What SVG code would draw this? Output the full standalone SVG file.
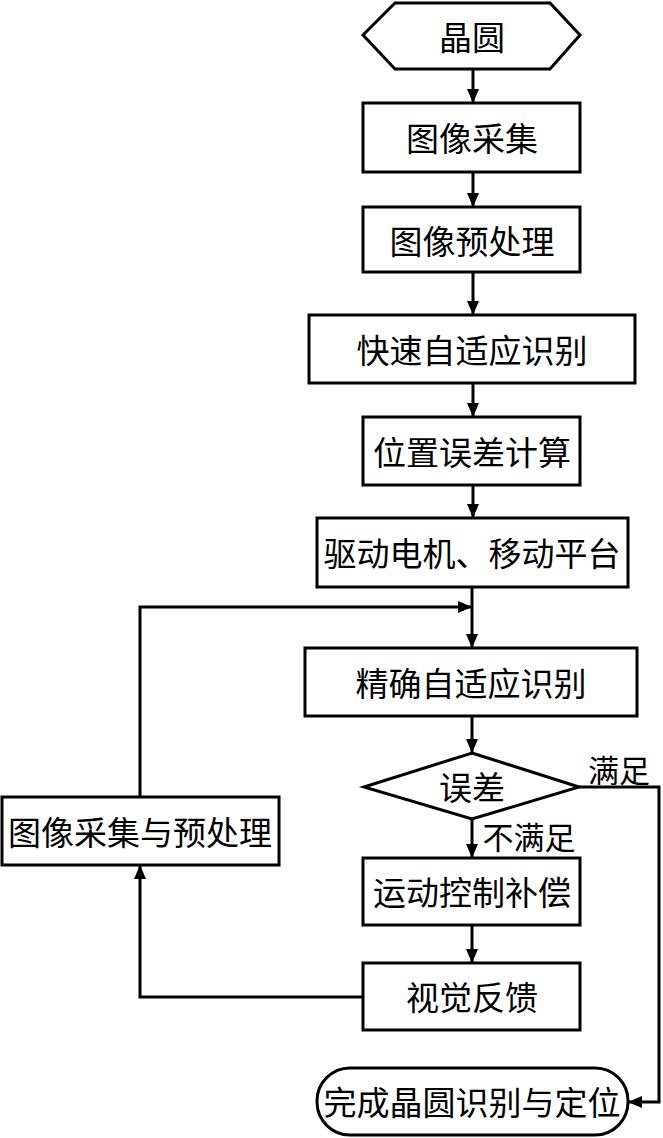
<svg xmlns="http://www.w3.org/2000/svg" width="663" height="1138" viewBox="0 0 663 1138">
<style>
.s{fill:#fff;stroke:#000;stroke-width:3}
.t{font-family:"Noto Sans CJK SC","Noto Sans CJK JP",sans-serif;font-size:33px;fill:#000;text-anchor:middle;dominant-baseline:central}
.l{font-size:31px}
.c{fill:none;stroke:#000;stroke-width:3}
</style>
<defs>
<marker id="a" markerUnits="userSpaceOnUse" markerWidth="14" markerHeight="12" refX="14" refY="6" orient="auto">
<path d="M0,0 L14,6 L0,12 z" fill="#000"/>
</marker>
</defs>
<rect width="663" height="1138" fill="#fff"/>
<g id="connectors">
<path class="c" d="M473,69 V103" marker-end="url(#a)"/>
<path class="c" d="M473,172 V207" marker-end="url(#a)"/>
<path class="c" d="M473,272 V315" marker-end="url(#a)"/>
<path class="c" d="M473,383 V417" marker-end="url(#a)"/>
<path class="c" d="M473,485 V518" marker-end="url(#a)"/>
<path class="c" d="M472,587 V648" marker-end="url(#a)"/>
<path class="c" d="M140,797 V607 H472" marker-end="url(#a)"/>
<path class="c" d="M472,716 V753" marker-end="url(#a)"/>
<path class="c" d="M472,819 V858" marker-end="url(#a)"/>
<path class="c" d="M472,925 V963" marker-end="url(#a)"/>
<path class="c" d="M363,997 H140 V865" marker-end="url(#a)"/>
<path class="c" d="M579,787 H659 V1102 H628" marker-end="url(#a)"/>
<text class="t l" x="619" y="768">满足</text>
<text class="t l" x="529" y="835">不满足</text>
</g>
<g id="n0"><polygon class="s" points="363,35 395,3 550,3 580,35 550,69 395,69"/><text class="t" x="472" y="36">晶圆</text></g>
<g id="n1"><rect class="s" x="363" y="103" width="217" height="69"/><text class="t" x="472" y="137">图像采集</text></g>
<g id="n2"><rect class="s" x="363" y="207" width="217" height="65"/><text class="t" x="472" y="240">图像预处理</text></g>
<g id="n3"><rect class="s" x="309" y="315" width="326" height="68"/><text class="t" x="472" y="349">快速自适应识别</text></g>
<g id="n4"><rect class="s" x="363" y="417" width="217" height="68"/><text class="t" x="472" y="451">位置误差计算</text></g>
<g id="n5"><rect class="s" x="317" y="518" width="311" height="69"/><text class="t" x="472" y="552">驱动电机、移动平台</text></g>
<g id="n6"><rect class="s" x="305" y="648" width="332" height="68"/><text class="t" x="471" y="682">精确自适应识别</text></g>
<g id="n7"><polygon class="s" points="472,753 579,787 472,819 364,787"/><text class="t" x="472" y="786">误差</text></g>
<g id="n8"><rect class="s" x="363" y="858" width="217" height="67"/><text class="t" x="472" y="891">运动控制补偿</text></g>
<g id="n9"><rect class="s" x="363" y="963" width="217" height="67"/><text class="t" x="472" y="996">视觉反馈</text></g>
<g id="n10"><rect class="s" x="2" y="797" width="277" height="68"/><text class="t" x="140" y="831">图像采集与预处理</text></g>
<g id="n11"><rect class="s" x="317" y="1068" width="311" height="67" rx="33" ry="33"/><text class="t" x="472" y="1101">完成晶圆识别与定位</text></g>
</svg>
